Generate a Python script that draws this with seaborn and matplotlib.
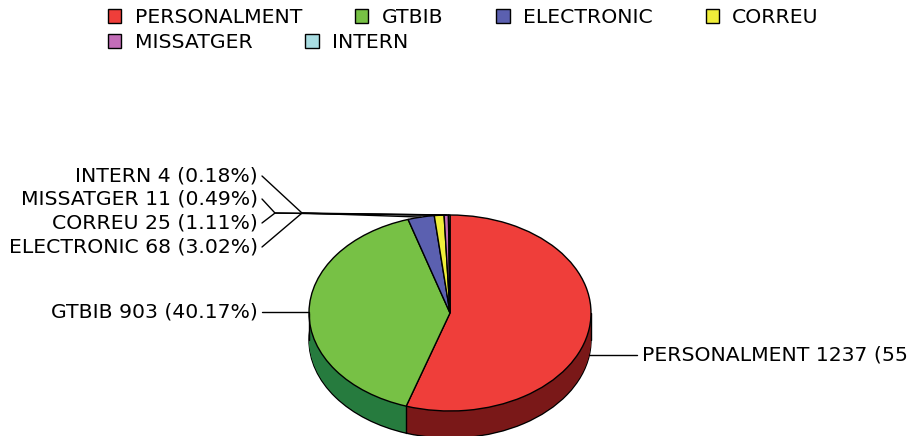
import matplotlib
import matplotlib.pyplot as plt
import numpy as np
import seaborn as sns
from matplotlib.patches import Patch

matplotlib.use("Agg")

# --- DATA ---
CATEGORIES = ["PERSONALMENT", "GTBIB", "ELECTRONIC", "CORREU", "MISSATGER", "INTERN"]
COUNTS = [1237, 903, 68, 25, 11, 4]
TOP_COLORS = ["#EF3E3A", "#77C145", "#5B60B0", "#F0EE3A", "#C36DB8", "#A9DDE2"]
SIDE_COLORS = ["#7A1818", "#267B3E", "#2D3068", "#78771D", "#61365C", "#557071"]

# --- LAYOUT (pixels) ---
W, H = 909, 436
CX, CY = 450, 313      # centre of the top face
RX, RY = 141, 98       # ellipse half axes
DEPTH = 27             # thickness of the pie
FS = 14.7


def to_data(px, py):
    return (px - CX) / RX, (CY - py) / RY


sns.set_theme(style="white")
plt.rcParams["font.family"] = ["DejaVu Sans"]
plt.rcParams["text.color"] = "black"

fig = plt.figure(figsize=(W / 100, H / 100), dpi=100)
ax = fig.add_axes([0, 0, 1, 1])

depth = DEPTH / RY
pie_kw = dict(startangle=90, counterclock=False, radius=1)

# side of the pie: stack of dark pies, the lowest one outlined
for i, off in enumerate(np.linspace(-depth, 0, DEPTH + 1, endpoint=False)):
    edge = dict(edgecolor="black", linewidth=1.0) if i == 0 else dict(linewidth=0)
    ax.pie(COUNTS, colors=SIDE_COLORS, center=(0, off), wedgeprops=edge, **pie_kw)

total = sum(COUNTS)
cum = np.cumsum([0] + COUNTS) / total
bound_ang = np.deg2rad(90 - 360 * cum)
for a in bound_ang:
    if np.sin(a) < -0.05:
        ax.plot([np.cos(a)] * 2, [np.sin(a), np.sin(a) - depth], color="black", lw=1.0)
for xs in (-1, 1):
    ax.plot([xs, xs], [0, -depth], color="black", lw=1.0)

# top face
ax.pie(COUNTS, colors=TOP_COLORS, wedgeprops=dict(edgecolor="black", linewidth=1.0), **pie_kw)

ax.set_aspect("auto")
x0, y0 = to_data(0, H)
x1, y1 = to_data(W, 0)
ax.set_xlim(x0, x1)
ax.set_ylim(y0, y1)
ax.axis("off")

# --- slice labels ---
mid_ang = np.deg2rad(90 - 360 * (cum[:-1] + cum[1:]) / 2)
texts = [f"{c} {v} ({v / total * 100:.2f}%)" for c, v in zip(CATEGORIES, COUNTS)]

label_y = {"ELECTRONIC": 247, "CORREU": 223, "MISSATGER": 199, "INTERN": 176}
elbow_x = {"ELECTRONIC": 302, "CORREU": 275, "MISSATGER": 275, "INTERN": 302}

for name, txt, a in zip(CATEGORIES, texts, mid_ang):
    axx, ayy = np.cos(a), np.sin(a)
    if ayy < -0.1:
        ayy -= depth
    if name in label_y:
        lx, ly = to_data(262, label_y[name])
        ex, _ = to_data(elbow_x[name], 0)
        ey = 1.02
        ax.plot([lx, ex, axx], [ly, ey, ayy], color="black", lw=1.0)
        tx, ty = to_data(258, label_y[name])
        ax.text(tx, ty, txt, ha="right", va="center", fontsize=FS)
    elif axx > 0:
        ex, _ = to_data(637, 0)
        ax.plot([axx, ex], [ayy, ayy], color="black", lw=1.0)
        tx, _ = to_data(642, 0)
        ax.text(tx, ayy, txt, ha="left", va="center", fontsize=FS)
    else:
        ex, _ = to_data(262, 0)
        ax.plot([axx, ex], [ayy, ayy], color="black", lw=1.0)
        tx, _ = to_data(258, 0)
        ax.text(tx, ayy, txt, ha="right", va="center", fontsize=FS)

# --- legend (two flowing rows) ---
handles = [Patch(facecolor=c, edgecolor="black", linewidth=1.0) for c in TOP_COLORS]
leg_kw = dict(loc="upper left", frameon=False, fontsize=FS, handlelength=0.65,
              handleheight=0.7, handletextpad=0.65, columnspacing=2.6,
              borderpad=0, borderaxespad=0)
fig.legend(handles[:4], CATEGORIES[:4], ncol=4, bbox_to_anchor=(108 / W, 1 - 8 / H), **leg_kw)
fig.legend(handles[4:], CATEGORIES[4:], ncol=2, bbox_to_anchor=(108 / W, 1 - 33 / H), **leg_kw)

fig.savefig("out.png", dpi=100)
